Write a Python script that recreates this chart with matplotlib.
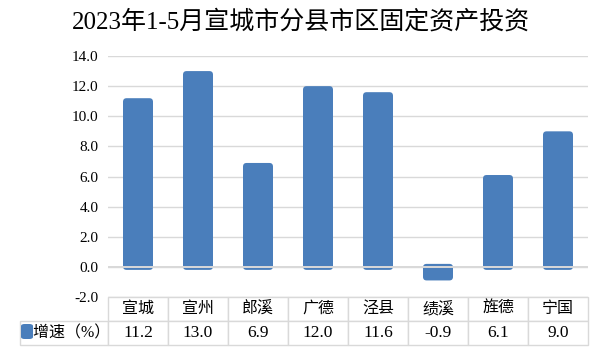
import matplotlib
matplotlib.use("Agg")
import matplotlib.pyplot as plt
from matplotlib.patches import FancyBboxPatch

plt.rcParams['font.family'] = ['Liberation Serif', 'Noto Sans CJK SC']

# data
counties = ['宣城', '宣州', '郎溪', '广德', '泾县', '绩溪', '旌德', '宁国']
growth = [11.2, 13.0, 6.9, 12.0, 11.6, -0.9, 6.1, 9.0]
series_name = '增速（%）'
title = '2023年1-5月宣城市分县市区固定资产投资'

blue = '#4A7EBB'
grid_c = '#D9D9D9'

fig = plt.figure(figsize=(6, 3.53), dpi=100)
ax = fig.add_axes([0.18, 0.1586, 0.80, 0.6827])

x = list(range(len(counties)))
bars = ax.bar(x, growth, width=0.5, color=blue, zorder=2)

# swap plain bars for rounded ones (Excel style, base pokes past zero a bit)
lip = 0.2
for b in bars:
    b.set_visible(False)
    h = b.get_height()
    if h >= 0:
        y0, hh = -lip, h + lip
    else:
        y0, hh = h, -h + lip
    rb = FancyBboxPatch((b.get_x(), y0), b.get_width(), hh,
                        boxstyle='round,pad=0,rounding_size=0.06',
                        mutation_aspect=4, facecolor=blue, edgecolor='none',
                        zorder=2)
    ax.add_patch(rb)

ax.set_xlim(-0.5, len(counties) - 0.5)
ax.set_ylim(-2, 14)
ax.set_yticks(range(-2, 15, 2))
ax.set_yticklabels(['%.1f' % v for v in range(-2, 15, 2)], fontsize=11)
ax.tick_params(axis='y', length=0, pad=7)
ax.set_xticks([])
for s in ax.spines.values():
    s.set_visible(False)
ax.grid(axis='y', color=grid_c, lw=1, zorder=0)
ax.set_axisbelow(True)
ax.axhline(0, color=grid_c, lw=1.4, zorder=3)

# data table under the chart
cells = [[''] + counties,
         [series_name] + ['%.1f' % v for v in growth]]
widths = [88] + [60] * len(counties)
tab = ax.table(cellText=cells, colWidths=[w / sum(widths) for w in widths],
               cellLoc='center', bbox=[-88 / 480, -48 / 241, 568 / 480, 48 / 241])
tab.auto_set_font_size(False)
for (r, c), cell in tab.get_celld().items():
    cell.set_edgecolor(grid_c)
    cell.set_linewidth(1)
    cell.get_text().set_fontsize(11.5)
    if r == 1 and c > 0:
        cell.get_text().set_fontsize(12.5)
tab[0, 0].visible_edges = 'open'
tab[1, 0].get_text().set_text('\u3000' + series_name)
tab[1, 0].get_text().set_fontsize(11.5)

# legend key inside the row label
fig.patches.append(FancyBboxPatch((21 / 600, 1 - 339 / 353), 12 / 600, 15 / 353,
                                  boxstyle='round,pad=0,rounding_size=0.006',
                                  transform=fig.transFigure, facecolor=blue,
                                  edgecolor='none', zorder=5))

fig.text(0.502, 1 - 22 / 353, title, ha='center', va='center', fontsize=18)

fig.savefig('out.png', dpi=100)
